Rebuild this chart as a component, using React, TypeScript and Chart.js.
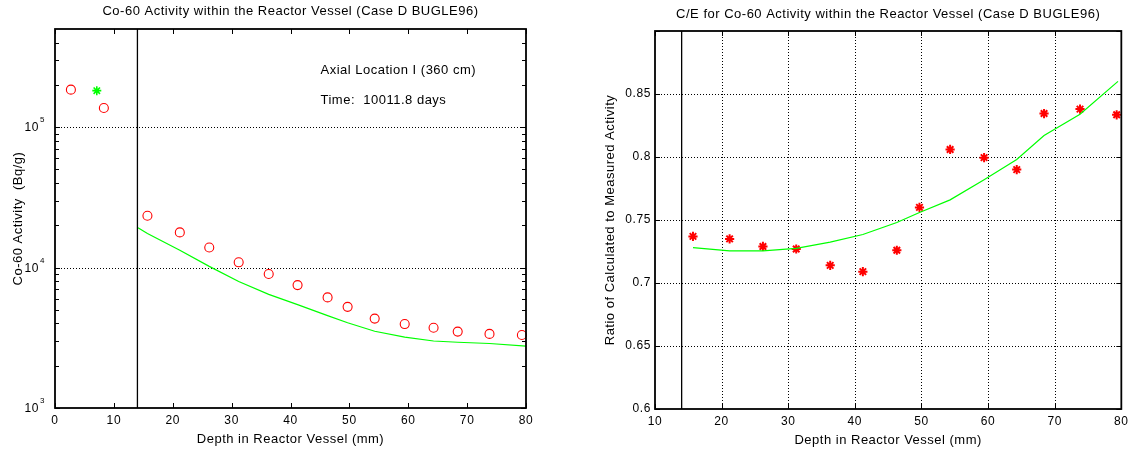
import { useEffect, useRef } from "react";
import { Chart, registerables } from "chart.js";

Chart.register(...registerables);

// ---------- data ----------
const depthMeasured = [2.7, 8.3, 15.7, 21.2, 26.2, 31.2, 36.3, 41.2, 46.3, 49.7, 54.3, 59.4, 64.3, 68.4, 73.8, 79.3];
const activityMeasured = [185000, 137000, 23400, 17800, 13900, 10900, 9000, 7500, 6130, 5250, 4330, 3960, 3730, 3500, 3370, 3310];
const depthExtra = [7.1];
const activityExtra = [182000];
const depthCalc = [14.1, 15.7, 21.2, 26.2, 31.2, 36.3, 41.2, 46.3, 49.7, 54.3, 59.4, 64.3, 68.4, 73.8, 80];
const activityCalc = [19200, 17500, 13300, 10200, 7950, 6450, 5450, 4550, 4050, 3520, 3200, 3000, 2940, 2880, 2760];

const depthRatio = [15.7, 21.2, 26.2, 31.2, 36.3, 41.2, 46.3, 49.7, 54.3, 59.4, 64.3, 68.4, 73.8, 79.3];
const ratioCE = [0.737, 0.735, 0.729, 0.727, 0.714, 0.709, 0.726, 0.76, 0.806, 0.7995, 0.79, 0.8345, 0.838, 0.8335];
const depthFit = [15.7, 21.2, 26.2, 31.2, 36.3, 41.2, 46.3, 49.7, 54.3, 59.4, 64.3, 68.4, 73.8, 79.5];
const ratioFit = [0.728, 0.7255, 0.7255, 0.7275, 0.7325, 0.7385, 0.748, 0.756, 0.766, 0.782, 0.798, 0.817, 0.834, 0.86];

const boundaryDepth = 14;

const leftXTicks = [0, 10, 20, 30, 40, 50, 60, 70, 80];
const rightXTicks = [10, 20, 30, 40, 50, 60, 70, 80];
const activityDecades = [3, 4, 5];
const ratioTickValues = [0.6, 0.65, 0.7, 0.75, 0.8, 0.85, 0.9];
const ratioTickLabels = ["0.6", "0.65", "0.7", "0.75", "0.8", "0.85", ""];

const leftTitle = "Co-60 Activity within the Reactor Vessel (Case D BUGLE96)";
const rightTitle = "C/E for Co-60 Activity within the Reactor Vessel (Case D BUGLE96)";
const xTitle = "Depth in Reactor Vessel (mm)";
const leftYTitle = "Co-60 Activity  (Bq/g)";
const rightYTitle = "Ratio of Calculated to Measured Activity";
const noteLines = ["Axial Location I (360 cm)", "Time:  10011.8 days"];
const noteDepth = 45.1;
const noteActivity = [255000, 155000];

// ---------- helpers ----------
const FONT = '"Liberation Sans", Arial, Helvetica, sans-serif';
const zip = (xs: number[], ys: number[]) => xs.map((x, i) => ({ x, y: ys[i] }));

type Deco = {
  title: string;
  titleY: number;
  yTitle: string;
  yTitleX: number;
  xTitleY: number;
  gridX: number[];
  gridY: number[];
  majorX: number[];
  majorY: number[];
  minorY: number[];
  logLabels?: number[];
  notes?: { text: string; x: number; y: number }[];
};

function decoPlugin(d: Deco) {
  return {
    id: "deco",
    beforeDraw(chart: any) {
      chart.ctx.letterSpacing = "0.6px";
    },
    beforeDatasetsDraw(chart: any) {
      const { ctx, chartArea: a, scales } = chart;
      const xs = scales.x, ys = scales.y;
      ctx.save();
      ctx.strokeStyle = "#000";
      ctx.lineWidth = 1;
      ctx.setLineDash([1, 2]);
      for (const v of d.gridX) {
        const px = Math.round(xs.getPixelForValue(v)) + 0.5;
        ctx.beginPath();
        ctx.moveTo(px, a.top);
        ctx.lineTo(px, a.bottom);
        ctx.stroke();
      }
      for (const v of d.gridY) {
        const py = Math.round(ys.getPixelForValue(v)) + 0.5;
        ctx.beginPath();
        ctx.moveTo(a.left, py);
        ctx.lineTo(a.right, py);
        ctx.stroke();
      }
      ctx.restore();
    },
    afterDatasetsDraw(chart: any) {
      const { ctx, chartArea: a, scales } = chart;
      const xs = scales.x, ys = scales.y;
      ctx.save();
      ctx.strokeStyle = "#000";
      ctx.lineWidth = 1;
      ctx.setLineDash([]);
      const major = 5, minor = 4;
      for (const v of d.majorX) {
        const px = Math.round(xs.getPixelForValue(v)) + 0.5;
        ctx.beginPath();
        ctx.moveTo(px, a.bottom);
        ctx.lineTo(px, a.bottom - major);
        ctx.moveTo(px, a.top);
        ctx.lineTo(px, a.top + major);
        ctx.stroke();
      }
      const yt = (vals: number[], len: number) => {
        for (const v of vals) {
          const py = Math.round(ys.getPixelForValue(v)) + 0.5;
          ctx.beginPath();
          ctx.moveTo(a.left, py);
          ctx.lineTo(a.left + len, py);
          ctx.moveTo(a.right, py);
          ctx.lineTo(a.right - len, py);
          ctx.stroke();
        }
      };
      yt(d.majorY, major);
      yt(d.minorY, minor);
      ctx.lineWidth = 1.8;
      ctx.strokeRect(a.left, a.top, a.right - a.left, a.bottom - a.top);
      ctx.restore();
    },
    afterDraw(chart: any) {
      const { ctx, chartArea: a, scales } = chart;
      const xs = scales.x, ys = scales.y;
      ctx.save();
      ctx.fillStyle = "#000";
      ctx.letterSpacing = "0.5px";
      ctx.font = `13px ${FONT}`;
      ctx.textAlign = "center";
      ctx.textBaseline = "middle";
      const cx = (a.left + a.right) / 2;
      const cy = (a.top + a.bottom) / 2;
      ctx.fillText(d.title, cx, d.titleY);
      ctx.fillText(xTitle, cx, d.xTitleY);
      ctx.save();
      ctx.translate(d.yTitleX, cy);
      ctx.rotate(-Math.PI / 2);
      ctx.fillText(d.yTitle, 0, 0);
      ctx.restore();
      if (d.notes) {
        ctx.textAlign = "left";
        for (const n of d.notes) {
          ctx.fillText(n.text, xs.getPixelForValue(n.x), ys.getPixelForValue(n.y));
        }
      }
      if (d.logLabels) {
        ctx.letterSpacing = "0.6px";
        for (const e of d.logLabels) {
          const py = ys.getPixelForValue(Math.pow(10, e));
          ctx.font = `12px ${FONT}`;
          ctx.textAlign = "right";
          ctx.fillText("10", a.left - 16, py + 1);
          ctx.font = `8px ${FONT}`;
          ctx.textAlign = "left";
          ctx.fillText(String(e), a.left - 15, py - 7);
        }
      }
      ctx.restore();
    },
  };
}

function buildLeft(canvas: HTMLCanvasElement) {
  const minorY: number[] = [];
  for (let e = 3; e <= 5; e++) for (let m = 2; m <= 9; m++) {
    const v = m * Math.pow(10, e);
    if (v < 5e5) minorY.push(v);
  }
  return new Chart(canvas, {
    type: "scatter",
    data: {
      datasets: [
        {
          data: zip([boundaryDepth, boundaryDepth], [1e3, 5e5]),
          showLine: true, borderColor: "#000", borderWidth: 1.3, pointRadius: 0,
        },
        {
          data: zip(depthCalc, activityCalc),
          showLine: true, borderColor: "#00ff00", borderWidth: 1.2, pointRadius: 0,
        },
        {
          data: zip(depthMeasured, activityMeasured),
          pointStyle: "circle", pointRadius: 4.5, borderColor: "#ff0000",
          backgroundColor: "rgba(0,0,0,0)", borderWidth: 1.1, clip: false,
        },
        {
          data: zip(depthExtra, activityExtra),
          pointStyle: "star", pointRadius: 4.5, borderColor: "#00ff00",
          backgroundColor: "#00ff00", borderWidth: 1.6, clip: false,
        },
      ],
    },
    options: {
      animation: false,
      responsive: false,
      events: [],
      layout: { padding: { top: 29, right: 34, left: 0, bottom: 0 } },
      plugins: { legend: { display: false }, tooltip: { enabled: false } },
      scales: {
        x: {
          type: "linear", min: 0, max: 80,
          afterBuildTicks: (s: any) => { s.ticks = leftXTicks.map((v) => ({ value: v })); },
          afterFit: (s: any) => { s.height = 44; },
          grid: { display: false, drawTicks: false },
          border: { display: false },
          ticks: { color: "#000", font: { family: FONT, size: 12 }, padding: 5, maxRotation: 0, callback: (v: any) => String(v) },
        },
        y: {
          type: "logarithmic", min: 1e3, max: 5e5,
          afterFit: (s: any) => { s.width = 55; },
          grid: { display: false, drawTicks: false },
          border: { display: false },
          ticks: { display: false },
        },
      },
    },
    plugins: [
      decoPlugin({
        title: leftTitle, titleY: 11, yTitle: leftYTitle, yTitleX: 18, xTitleY: 439,
        gridX: [], gridY: [1e4, 1e5],
        majorX: leftXTicks, majorY: activityDecades.map((e) => Math.pow(10, e)), minorY,
        logLabels: activityDecades,
        notes: noteLines.map((t, i) => ({ text: t, x: noteDepth, y: noteActivity[i] })),
      }),
    ],
  } as any);
}

function buildRight(canvas: HTMLCanvasElement) {
  return new Chart(canvas, {
    type: "scatter",
    data: {
      datasets: [
        {
          data: zip([boundaryDepth, boundaryDepth], [0.6, 0.9]),
          showLine: true, borderColor: "#000", borderWidth: 1.3, pointRadius: 0,
        },
        {
          data: zip(depthFit, ratioFit),
          showLine: true, borderColor: "#00ff00", borderWidth: 1.2, pointRadius: 0,
        },
        {
          data: zip(depthRatio, ratioCE),
          pointStyle: "star", pointRadius: 4.6, borderColor: "#ff0000",
          backgroundColor: "#ff0000", borderWidth: 2, clip: false,
        },
      ],
    },
    options: {
      animation: false,
      responsive: false,
      events: [],
      layout: { padding: { top: 31, right: 11, left: 0, bottom: 0 } },
      plugins: { legend: { display: false }, tooltip: { enabled: false } },
      scales: {
        x: {
          type: "linear", min: 10, max: 80,
          afterBuildTicks: (s: any) => { s.ticks = rightXTicks.map((v) => ({ value: v })); },
          afterFit: (s: any) => { s.height = 43; },
          grid: { display: false, drawTicks: false },
          border: { display: false },
          ticks: { color: "#000", font: { family: FONT, size: 12 }, padding: 5, maxRotation: 0, callback: (v: any) => String(v) },
        },
        y: {
          type: "linear", min: 0.6, max: 0.9,
          afterBuildTicks: (s: any) => { s.ticks = ratioTickValues.map((v) => ({ value: v })); },
          afterFit: (s: any) => { s.width = 95; },
          grid: { display: false, drawTicks: false },
          border: { display: false },
          ticks: {
            color: "#000", font: { family: FONT, size: 12 }, padding: 4,
            callback: (_v: any, i: number) => ratioTickLabels[i],
          },
        },
      },
    },
    plugins: [
      decoPlugin({
        title: rightTitle, titleY: 14, yTitle: rightYTitle, yTitleX: 50, xTitleY: 440,
        gridX: rightXTicks.slice(1, -1), gridY: ratioTickValues.slice(1, -1),
        majorX: rightXTicks, majorY: ratioTickValues, minorY: [],
      }),
    ],
  } as any);
}

export default function App() {
  const leftRef = useRef<HTMLCanvasElement>(null);
  const rightRef = useRef<HTMLCanvasElement>(null);
  useEffect(() => {
    const l = buildLeft(leftRef.current!);
    const r = buildRight(rightRef.current!);
    return () => {
      l.destroy();
      r.destroy();
    };
  }, []);
  return (
    <div style={{ position: "absolute", left: 0, top: 0, width: 1133, height: 452, background: "#fff" }}>
      <canvas ref={leftRef} width={560} height={452} style={{ position: "absolute", left: 0, top: 0, width: 560, height: 452 }} />
      <canvas ref={rightRef} width={573} height={452} style={{ position: "absolute", left: 560, top: 0, width: 573, height: 452 }} />
    </div>
  );
}
